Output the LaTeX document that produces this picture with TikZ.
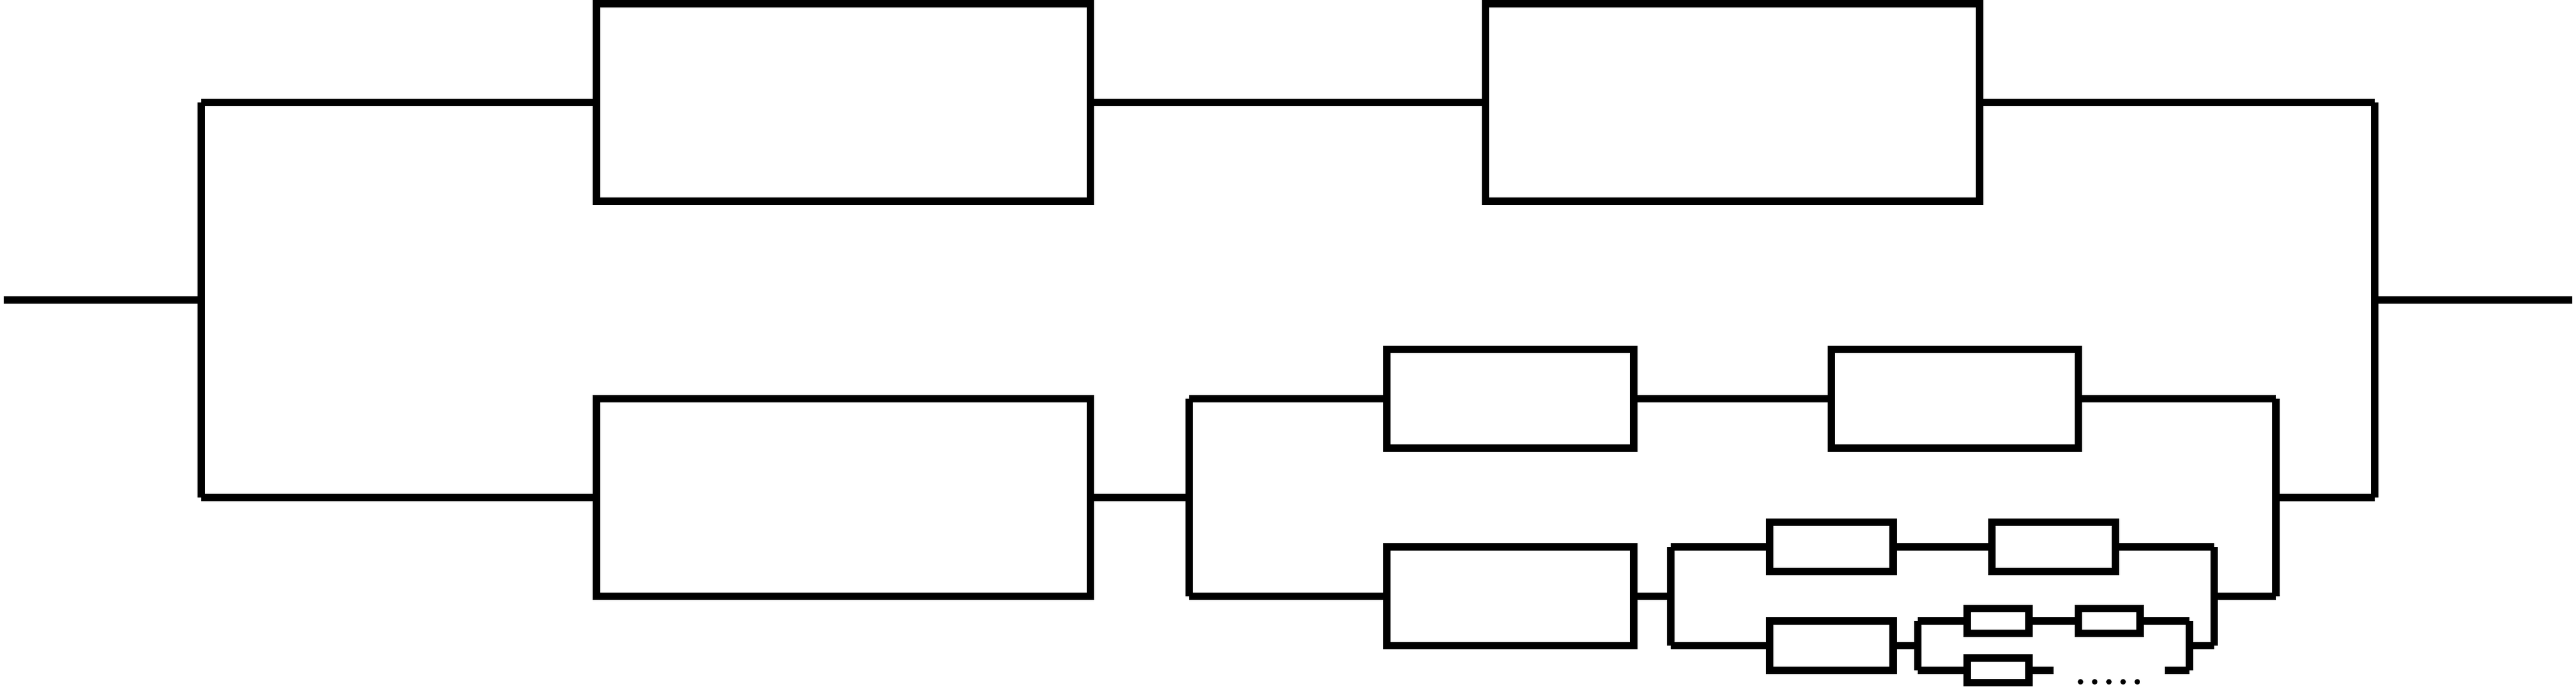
\documentclass[tikz,border=0pt]{standalone}
\usepackage{tikz}
\usetikzlibrary{positioning}

\begin{document}
\begin{tikzpicture}

      \tikzstyle{wire}=[line width=0.15cm,black]
      \tikzstyle{bigbox}=[rectangle,draw,wire,outer sep=0pt,inner sep=0pt,
        minimum width=10cm,minimum height=4cm]
      \tikzstyle{midbox}=[bigbox,minimum width=5cm,minimum height=2cm]
      \tikzstyle{smallbox}=[bigbox,minimum width=2.5cm,minimum height=1cm]
      \tikzstyle{tinybox}=[bigbox,minimum width=1.25cm,minimum height=0.5cm]

      \useasboundingbox (-0.075,0.075) rectangle (52.075,-13.825);

      \node(Top1)[bigbox] at (17,-2){};
      \node(Top2)[bigbox,right=8cm of Top1]{};
      \node(Low1)[bigbox,below=4cm of Top1]{};

      \node(MidA)[midbox,right=6cm of Low1,yshift=2cm]{};
      \node(MidB)[midbox,right=4cm of MidA]{};
      \node(MidC)[midbox,below=2cm of MidA]{};

      \node(SmallA)[smallbox,right=2.75cm of MidC,yshift=1cm]{};
      \node(SmallB)[smallbox,right=2cm of SmallA]{};
      \node(SmallC)[smallbox,below=1cm of SmallA]{};

      \node(TinyA)[tinybox,right=1.5cm of SmallC,yshift=0.5cm]{};
      \node(TinyB)[tinybox,right=1cm of TinyA]{};
      \node(TinyC)[tinybox,below=0.5cm of TinyA]{};

      \node(Dots)[anchor=base,inner sep=0pt,transform shape,scale=2.95]
      at ([yshift=-1.04cm]TinyB.south){.....};

      \coordinate(Rail1Top) at ([xshift=-8cm]Top1.west);
      \coordinate(Rail1Bot) at ([xshift=-8cm]Low1.west);
      \coordinate(Rail1Mid) at ([yshift=-4cm]Rail1Top);
      \coordinate(In) at ([xshift=-4cm]Rail1Mid);

      \coordinate(Rail2Top) at ([xshift=8cm]Top2.east);
      \coordinate(Rail2Bot) at ([yshift=-8cm]Rail2Top);
      \coordinate(Rail2Mid) at ([yshift=-4cm]Rail2Top);
      \coordinate(Out) at ([xshift=4cm]Rail2Mid);

      \coordinate(Rail3Top) at ([xshift=-4cm]MidA.west);
      \coordinate(Rail3Bot) at ([xshift=-4cm]MidC.west);
      \coordinate(Rail4Top) at ([xshift=4cm]MidB.east);
      \coordinate(Rail4Bot) at ([yshift=-4cm]Rail4Top);
      \coordinate(Rail4Mid) at ([yshift=-2cm]Rail4Top);

      \coordinate(Rail5Top) at ([xshift=-2cm]SmallA.west);
      \coordinate(Rail5Bot) at ([xshift=-2cm]SmallC.west);
      \coordinate(Rail6Top) at ([xshift=2cm]SmallB.east);
      \coordinate(Rail6Bot) at ([yshift=-2cm]Rail6Top);
      \coordinate(Rail6Mid) at ([yshift=-1cm]Rail6Top);

      \coordinate(Rail7Top) at ([xshift=-1cm]TinyA.west);
      \coordinate(Rail7Bot) at ([xshift=-1cm]TinyC.west);
      \coordinate(Rail8Top) at ([xshift=1cm]TinyB.east);
      \coordinate(Rail8Bot) at ([yshift=-1cm]Rail8Top);
      \coordinate(Rail8Mid) at ([yshift=-0.5cm]Rail8Top);
      \coordinate(StubL) at ([xshift=0.5cm]TinyC.east);
      \coordinate(StubR) at ([xshift=-0.5cm]Rail8Bot);

      % outer level
      \draw [wire] (In)--(Rail1Mid);
      \draw [wire] (Rail1Top)--(Rail1Bot);
      \draw [wire] (Rail1Top)--(Top1.west);
      \draw [wire] (Rail1Bot)--(Low1.west);
      \draw [wire] (Top1.east)--(Top2.west);
      \draw [wire] (Top2.east)--(Rail2Top);
      \draw [wire] (Rail2Top)--(Rail2Bot);
      \draw [wire] (Rail2Mid)--(Out);

      % second level
      \draw [wire] (Low1.east)--(Low1.east -| Rail3Top);
      \draw [wire] (Rail3Top)--(Rail3Bot);
      \draw [wire] (Rail3Top)--(MidA.west);
      \draw [wire] (Rail3Bot)--(MidC.west);
      \draw [wire] (MidA.east)--(MidB.west);
      \draw [wire] (MidB.east)--(Rail4Top);
      \draw [wire] (Rail4Top)--(Rail4Bot);
      \draw [wire] (Rail4Mid)--(Rail2Bot);

      % third level
      \draw [wire] (MidC.east)--(MidC.east -| Rail5Top);
      \draw [wire] (Rail5Top)--(Rail5Bot);
      \draw [wire] (Rail5Top)--(SmallA.west);
      \draw [wire] (Rail5Bot)--(SmallC.west);
      \draw [wire] (SmallA.east)--(SmallB.west);
      \draw [wire] (SmallB.east)--(Rail6Top);
      \draw [wire] (Rail6Top)--(Rail6Bot);
      \draw [wire] (Rail6Mid)--(Rail4Bot);

      % fourth level
      \draw [wire] (SmallC.east)--(SmallC.east -| Rail7Top);
      \draw [wire] (Rail7Top)--(Rail7Bot);
      \draw [wire] (Rail7Top)--(TinyA.west);
      \draw [wire] (Rail7Bot)--(TinyC.west);
      \draw [wire] (TinyA.east)--(TinyB.west);
      \draw [wire] (TinyB.east)--(Rail8Top);
      \draw [wire] (Rail8Top)--(Rail8Bot);
      \draw [wire] (Rail8Mid)--(Rail8Mid -| Rail6Top);
      \draw [wire] (TinyC.east)--(StubL);
      \draw [wire] (StubR)--(Rail8Bot);

    \end{tikzpicture}
\end{document}
